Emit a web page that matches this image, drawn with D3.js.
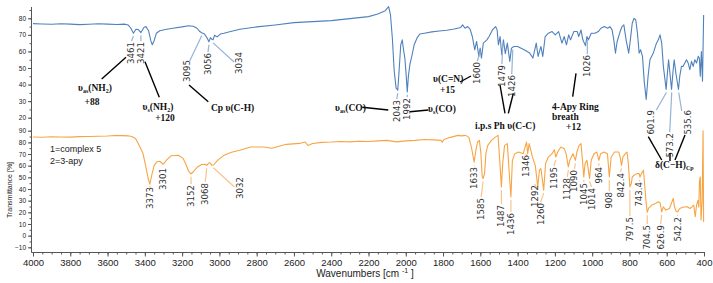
<!DOCTYPE html>
<html>
<head>
<meta charset="utf-8">
<script src="https://cdn.jsdelivr.net/npm/d3@7"></script>
<style>
  body { margin: 0; background: #fff; }
  svg { display: block; }
  .ax text { font-family: "Liberation Sans", Arial, sans-serif; fill: #222; }
  .ax line, .ax path { stroke: #555; }
  .pk { font-family: "DejaVu Sans", Verdana, sans-serif; font-size: 8.6px; fill: #333; }
  .ann { font-family: "Liberation Serif", "Times New Roman", serif; font-weight: bold; font-size: 9.5px; fill: #111; }
</style>
</head>
<body>
<svg id="chart" width="713" height="283"></svg>
<script>
// spectrum 1 (complex 5), top panel
const topWn = [4000,3950,3900,3850,3800,3750,3700,3650,3600,3550,3510,3490,3475,3461,3448,3435,3421,3405,3394,3380,3368,3360,3350,3338,3320,3290,3250,3200,3165,3140,3120,3105,3095,3080,3068,3056,3048,3040,3034,3026,3012,2995,2975,2940,2890,2800,2700,2600,2500,2400,2300,2200,2150,2110,2092,2082,2072,2062,2052,2043,2036,2027,2019,2012,2005,1998,1992,1986,1978,1966,1955,1940,1925,1900,1860,1820,1780,1740,1705,1695,1682,1668,1655,1643,1630,1620,1608,1601,1594,1584,1565,1553,1544,1535,1518,1510,1503,1494,1485,1476,1466,1455,1442,1433,1420,1400,1365,1335,1318,1300,1290,1275,1265,1252,1235,1215,1198,1180,1162,1150,1138,1126,1116,1098,1080,1072,1060,1050,1036,1028,1020,1005,985,967,953,935,917,905,893,884,875,866,850,840,830,818,804,795,785,775,766,757,748,740,730,720,710,700,690,672,655,645,636,627,618,603,597,590,583,574,567,560,551,537,530,521,512,494,485,476,467,458,449,440,431,425,420,414,408,402];
const topT = [76.8,76.6,76.4,76.7,76.5,76.2,76.4,76.7,76.5,76.3,76.5,76,74,71,73.4,73.2,71.4,74.5,75,72.5,66.5,64,66.5,71,72.5,73.2,74,74.8,75.5,75.2,74,72,71.3,70.5,68.5,65.8,68.3,67.3,67,69.8,68.8,70.5,71,72,73.4,74.8,76,77.4,78,78.6,79.8,81,82.6,84.6,87,82,68,48,38,36.6,48,64,67,61,56,46,35.6,45,52,58,64,68,70.5,71,71.8,72.3,72.8,73.5,74.5,76,74,75,73.5,69,61,66,57,62,56,65,67,69,71,73,75,73,64,69,58,67,58.7,65,54,62,63,63,61,59,56,65,57,63,57,69,71,72,70,72,65,69,64,70,67,72,72,69,73,67,63.5,69,67,71,71,72,74,75,74,75,73,67,59,66,72,75,76,67,59,67,77,80,79,71,59,61,57,41,31,45,55,59,65,67,70,65,51,37,46,55,47,37,47,55,47,37,45,51,51,55,53,49,54,51,55,53,57,56,45,60,42,82];

// spectrum 2 (3-apy), bottom panel
const botWn = [4000,3950,3900,3850,3800,3750,3700,3650,3600,3560,3520,3490,3470,3450,3430,3410,3395,3382,3373,3363,3350,3335,3320,3301,3285,3260,3220,3195,3180,3165,3152,3140,3120,3095,3075,3068,3056,3048,3040,3030,3010,2975,2935,2890,2834,2760,2720,2640,2570,2540,2525,2500,2450,2400,2350,2300,2250,2200,2150,2100,2050,2000,1950,1900,1850,1810,1805,1795,1760,1720,1700,1680,1662,1648,1633,1624,1615,1605,1597,1590,1585,1577,1570,1560,1540,1520,1505,1496,1487,1480,1470,1455,1446,1436,1428,1415,1395,1370,1360,1352,1346,1338,1320,1305,1292,1283,1275,1260,1250,1235,1215,1203,1195,1185,1168,1150,1140,1128,1120,1103,1090,1082,1070,1060,1052,1045,1038,1028,1014,1005,990,975,964,955,935,918,908,898,880,857,850,842.4,835,822,813,806,797.5,790,785,775,760,748,743.4,736,725,718,711,704.5,697,680,660,645,635,626.9,618,605,585,565,558,550,542.2,530,510,490,475,465,455,447,440,432,428,424,420,416,410,405,402];
const botT = [84.6,84.4,84.8,84.6,84.5,84.9,85,85.2,85.5,85.9,85.8,85.6,85,83.4,77.4,70.6,59.5,49,44.1,51.8,60.3,63.3,63.8,61.2,64.6,68.5,69,66.3,61.2,55.2,53,54.8,58.6,61,61.2,60.3,62.5,62,60.3,60.8,64.6,69,71.5,73.2,76,76,74.9,78.3,79.1,80.3,77.4,79,80,80.3,80.8,80.4,81,80.8,81.3,81.7,80.4,81.3,81.7,82.5,82.1,81.7,80,82.5,84.3,86,85.6,86,84.5,76,63,73.2,80.3,81.7,70.6,50.3,49,53.5,70.6,77.4,81.7,84.5,86,64.6,41.8,62,77.4,78.9,56.1,33.2,64.6,70.3,71.7,70.3,76,80.3,70.3,78.9,67.4,60,41.8,56.1,57.5,39,61.8,67.4,70.3,73.6,67.4,71.7,76,74.6,70.3,58.9,64.6,70.3,64.6,71.7,77.4,78.9,64.6,50.3,61.8,64.6,49,64.6,70.3,71.7,64.6,70.3,71.7,70.3,50.3,67.4,71.7,71.7,67.4,60.3,67.4,70.3,71.7,61.8,41.8,44.7,50.3,51.8,53.2,53.2,50.3,53.2,56.1,43.2,29,20,23.6,26.2,27.6,29,28,20.4,24.7,21.9,23.3,32,24.7,21,20.4,23.3,24.5,24.7,23.3,24.7,26.2,16.2,26.2,30.4,24.5,47.5,50.3,13.4,30,90,11.6];

// peak labels
const topPeaks = [3461, 3421, 3095, 3056, 3034, 2043, 1992, 1600, 1479, 1426, 1026, 601.9, 573.2, 535.6];
const topPeakText = ["3461", "3421", "3095", "3056", "3034", "2043", "1992", "1600", "1479", "1426", "1026", "601.9", "573.2", "535.6"];
const botPeaks = [3373, 3301, 3152, 3068, 3032, 1633, 1585, 1487, 1436, 1346, 1292, 1260, 1195, 1128, 1090, 1045, 1014, 964, 908, 842.4, 797.5, 743.4, 704.5, 626.9, 542.2];
const botPeakText = ["3373", "3301", "3152", "3068", "3032", "1633", "1585", "1487", "1436", "1346", "1292", "1260", "1195", "1128", "1090", "1045", "1014", "964", "908", "842.4", "797.5", "743.4", "704.5", "626.9", "542.2"];

const xTicks = d3.range(4000, 399, -200);
const topTicks = [20, 30, 40, 50, 60, 70, 80];
const botTicks = [-10, 0, 10, 20, 30, 40, 50, 60, 70, 80, 90];
const legendLines = ["1=complex 5", "2=3-apy"];

// label placement: [text dx, text top y, leader end dx, leader end y]
const topLabelLayout = [
  [-2, 42], [0, 42], [-15, 60, -12, 61], [-1, 53], [26, 52, 21, 62], [-1, 100], [0, 98],
  [-3, 62], [-1, 65], [-1, 75], [0, 55], [-15, 110, -10, 110], [-2, 133], [9, 110, 3, 111]
];
const botLabelLayout = [
  [0, 187], [0, 168], [0, 185], [-1.5, 183], [27, 177, 21, 187], [0, 167], [-2, 198], [0, 205],
  [0, 213], [-2, 155], [-3, 185], [-3, 203], [-2, 167], [-1, 178], [-1, 170], [0, 183], [2, 188],
  [0, 167], [0, 192], [-1, 173], [0, 217], [-1, 182], [0, 225], [-1, 225], [0, 217]
];

const W = 713, H = 283;
const svg = d3.select("#chart");

const x = d3.scaleLinear().domain([4000, 400]).range([33, 704]);
const yTop = d3.scaleLinear().domain([20, 80]).range([117.7, 18.3]);
const yBot = d3.scaleLinear().domain([-10, 90]).range([247.3, 130.7]);

const blue = "#4f81bd", orange = "#f7a544";
const blueLead = "#95b3d7", orangeLead = "#f9c48c";

// axes
const axG = svg.append("g").attr("class", "ax");
axG.append("line").attr("x1", 31.5).attr("x2", 31.5).attr("y1", 7).attr("y2", 252.5).attr("stroke", "#555");
axG.append("line").attr("x1", 31.5).attr("x2", 705).attr("y1", 252.5).attr("y2", 252.5).attr("stroke", "#555");

const xMinor = axG.append("g").attr("transform", "translate(0,252.5)")
  .call(d3.axisBottom(x).tickValues(d3.range(4000, 399, -50)).tickSize(2).tickFormat(""));
const xMajor = axG.append("g").attr("transform", "translate(0,252.5)")
  .call(d3.axisBottom(x).tickValues(xTicks).tickSize(4).tickPadding(3).tickFormat(d3.format("d")));
axG.selectAll(".domain").remove();
xMajor.selectAll("text").style("font-size", "9.5px");

function yAxis(scale, ticks, minor) {
  const g = axG.append("g").attr("transform", "translate(31.5,0)");
  g.call(d3.axisLeft(scale).tickValues(minor).tickSize(2).tickFormat(""));
  const m = axG.append("g").attr("transform", "translate(31.5,0)")
    .call(d3.axisLeft(scale).tickValues(ticks).tickSize(3.5).tickPadding(2).tickFormat(d3.format("d")));
  m.selectAll("text").style("font-size", "6.5px");
  axG.selectAll(".domain").remove();
}
yAxis(yTop, topTicks, d3.range(20, 86, 5));
yAxis(yBot, botTicks, d3.range(-10, 91, 5));

axG.append("text")
  .attr("x", 365).attr("y", 277).attr("text-anchor", "middle").style("font-size", "10px")
  .call(t => {
    t.append("tspan").text("Wavenumbers [cm ");
    t.append("tspan").attr("dy", -4).style("font-size", "7px").text("-1");
    t.append("tspan").attr("dy", 4).text(" ]");
  });
axG.append("text")
  .attr("transform", "translate(12,190) rotate(-90)")
  .attr("text-anchor", "middle").style("font-size", "7px").text("Transmittance [%]");

// spectra
const topData = topWn.map((w, i) => [w, topT[i]]);
const botData = botWn.map((w, i) => [w, botT[i]]);
const lineTop = d3.line().x(d => x(d[0])).y(d => yTop(d[1]));
const lineBot = d3.line().x(d => x(d[0])).y(d => yBot(d[1]));

svg.append("path").datum(botData).attr("d", lineBot)
  .attr("fill", "none").attr("stroke", orange).attr("stroke-width", 1.1).attr("stroke-linejoin", "round");
svg.append("path").datum(topData).attr("d", lineTop)
  .attr("fill", "none").attr("stroke", blue).attr("stroke-width", 1.1).attr("stroke-linejoin", "round");

// peak labels with leader lines
function curveAt(wn, wns, vals) {
  let best = 0;
  wns.forEach((w, i) => { if (Math.abs(w - wn) < Math.abs(wns[best] - wn)) best = i; });
  return vals[best];
}

function peakLabels(peaks, texts, layout, scale, wns, vals, leadColor) {
  const g = svg.append("g");
  peaks.forEach((p, i) => {
    const [dx, ty, ldx, ly] = layout[i];
    const px = x(p);
    const cy = scale(curveAt(p, wns, vals)) + 3;
    const ex = px + (ldx !== undefined ? ldx : dx);
    const ey = ly !== undefined ? ly : ty - 1;
    g.append("line").attr("x1", px).attr("y1", cy).attr("x2", ex).attr("y2", ey)
      .attr("stroke", leadColor).attr("stroke-width", 1.2);
    g.append("text").attr("class", "pk")
      .attr("transform", `translate(${px + dx},${ty}) rotate(-90)`)
      .attr("text-anchor", "end").attr("dy", "0.35em").text(texts[i]);
  });
}
peakLabels(topPeaks, topPeakText, topLabelLayout, yTop, topWn, topT, blueLead);
peakLabels(botPeaks, botPeakText, botLabelLayout, yBot, botWn, botT, orangeLead);

// legend
svg.append("g").selectAll("text").data(legendLines).join("text")
  .attr("x", 50).attr("y", (d, i) => 152 + i * 12)
  .style("font-family", "Liberation Sans, Arial, sans-serif").style("font-size", "9px").style("fill", "#222")
  .text(d => d);

// assignment annotations
const annLines = [
  [101.7, 79, 126, 57.3], [145, 61.7, 159.3, 97.3], [189, 85, 208.3, 101.7],
  [362.3, 107.3, 388.3, 110], [410, 111.7, 428.3, 110], [460, 82, 471, 76],
  [500, 85, 505, 113.3], [513.3, 93.3, 508.3, 113.3], [576, 73.3, 572.7, 96.7],
  [648.3, 136.7, 661.7, 160], [670, 153, 670, 161], [685, 135, 675, 160]
];
svg.append("g").selectAll("line").data(annLines).join("line")
  .attr("x1", d => d[0]).attr("y1", d => d[1]).attr("x2", d => d[2]).attr("y2", d => d[3])
  .attr("stroke", "#000").attr("stroke-width", 1.4);

const annG = svg.append("g").attr("class", "ann");
function ann(xp, yp, parts, anchor) {
  const t = annG.append("text").attr("x", xp).attr("y", yp).attr("text-anchor", anchor || "middle");
  parts.forEach(p => {
    if (typeof p === "string") t.append("tspan").text(p);
    else t.append("tspan").attr("dy", p.dy).style("font-size", p.fs + "px").text(p.t);
  });
}
const sub = s => ({ t: s, dy: 2, fs: 6 });
const back = s => ({ t: s, dy: -2, fs: 9.5 });
ann(95, 91, ["υ", sub("as"), back("(NH"), sub("2"), back(")")]);
ann(92, 105, ["+88"]);
ann(158, 110, ["υ", sub("s"), back("(NH"), sub("2"), back(")")]);
ann(165, 121, ["+120"]);
ann(211, 111, ["Cp υ(C-H)"], "start");
ann(335, 111, ["υ", sub("as"), back("(CO)")], "start");
ann(428, 112, ["υ", sub("s"), back("(CO)")], "start");
ann(433, 82, ["υ(C=N)"], "start");
ann(440, 93, ["+15"], "start");
ann(475, 129, ["i.p.s Ph υ(C-C)"], "start");
ann(552, 110, ["4-Apy Ring"], "start");
ann(552, 120, ["breath"], "start");
ann(566, 130, ["+12"], "start");
ann(655, 168, ["δ(C−H)", sub("Cp")], "start");
</script>
</body>
</html>
